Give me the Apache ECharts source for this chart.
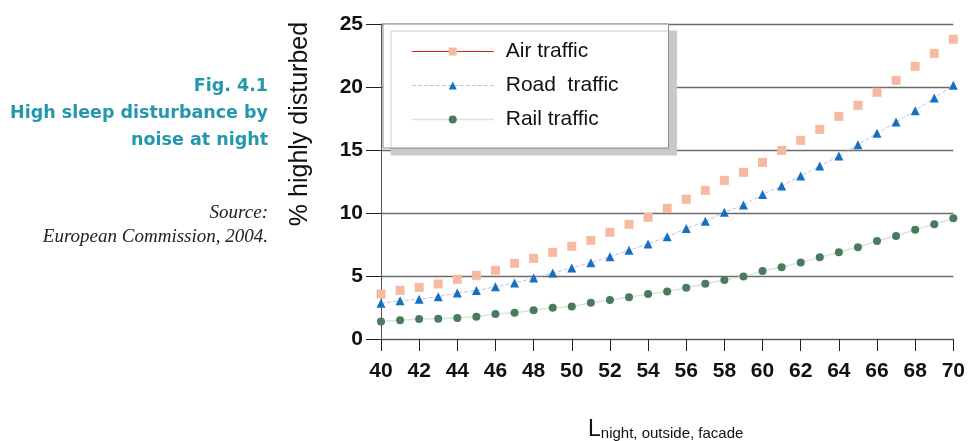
<!DOCTYPE html>
<html>
<head>
<meta charset="utf-8">
<script src="https://cdn.jsdelivr.net/npm/echarts@6/dist/echarts.min.js"></script>
<style>
html,body{margin:0;padding:0;background:#fff;}
#chart{width:968px;height:441px;}
</style>
</head>
<body>
<div id="chart"></div>
<script>
var noiseLevels = [40,41,42,43,44,45,46,47,48,49,50,51,52,53,54,55,56,57,58,59,60,61,62,63,64,65,66,67,68,69,70];
var airTraffic  = [3.57,3.86,4.10,4.37,4.74,5.05,5.45,6.01,6.40,6.88,7.36,7.83,8.47,9.10,9.66,10.37,11.09,11.80,12.59,13.23,14.02,14.97,15.77,16.64,17.67,18.55,19.58,20.53,21.64,22.67,23.79];
var roadTraffic = [2.83,3.04,3.15,3.36,3.65,3.84,4.15,4.44,4.84,5.24,5.63,6.06,6.53,7.04,7.54,8.12,8.76,9.34,10.05,10.63,11.46,12.14,12.94,13.73,14.52,15.42,16.32,17.22,18.12,19.13,20.13];
var railTraffic = [1.38,1.48,1.59,1.61,1.67,1.77,1.98,2.09,2.28,2.49,2.57,2.88,3.10,3.31,3.57,3.76,4.07,4.39,4.68,4.97,5.40,5.69,6.08,6.48,6.88,7.28,7.78,8.17,8.68,9.10,9.58];
var seriesNames = ['Air traffic', 'Road  traffic', 'Rail traffic'];
var titleLines = ['Fig. 4.1', 'High sleep disturbance by', 'noise at night'];
var sourceLines = ['Source:', 'European Commission, 2004.'];
var yAxisName = '% highly disturbed';
var xAxisNameMain = 'L';
var xAxisNameSub = 'night, outside, facade';

function pairs(vals){ return noiseLevels.map(function(x,i){ return [x, vals[i]]; }); }

var chart = echarts.init(document.getElementById('chart'), null, {renderer:'canvas'});
var tickFont = {fontFamily:'Liberation Sans, Arial, sans-serif', fontWeight:'bold', fontSize:21, color:'#111'};

var graphics = [];
var titleY = [88, 115, 142];
titleLines.forEach(function(t,i){
  graphics.push({type:'text', right: 968-268, top: titleY[i]-11, style:{text:t, fill:'#2397ad', font:'bold 17.5px "DejaVu Sans", sans-serif', textAlign:'right'}});
});
var srcY = [214, 238];
sourceLines.forEach(function(t,i){
  graphics.push({type:'text', right: 968-268, top: srcY[i]-11, style:{text:t, fill:'#222', font:'italic 19px "Liberation Serif", "Times New Roman", serif', textAlign:'right'}});
});
graphics.push({type:'text', x:300, y:124, rotation:Math.PI/2, style:{text:yAxisName, fill:'#111', font:'25px "Liberation Sans", Arial, sans-serif', textAlign:'center', textVerticalAlign:'middle'}});
graphics.push({type:'text', left:588, top:418, style:{
  text:'{a|'+xAxisNameMain+'}{b|'+xAxisNameSub+'}',
  rich:{a:{fontSize:23, fontFamily:'Liberation Sans, Arial, sans-serif', fill:'#111', verticalAlign:'bottom'},
        b:{fontSize:15, fontFamily:'Liberation Sans, Arial, sans-serif', fill:'#111', verticalAlign:'bottom'}}
}});

chart.setOption({
  animation:false,
  backgroundColor:'#fff',
  grid:{left:381, right:14, top:24, bottom:102, containLabel:false},
  legend:{
    left:383, top:24, orient:'vertical',
    padding:[17,50,18,28],
    itemGap:13, itemWidth:82, itemHeight:10,
    backgroundColor:'#fff', borderColor:'#888', borderWidth:1,
    shadowColor:'#c9c9c9', shadowBlur:0, shadowOffsetX:8, shadowOffsetY:7,
    textStyle:{fontFamily:'Liberation Sans, Arial, sans-serif', fontSize:21, color:'#111', padding:[0,0,0,7]},
    data:[
      {name:seriesNames[0], lineStyle:{color:'#d8281e', width:1.2, opacity:1, type:'solid'}},
      {name:seriesNames[1], lineStyle:{color:'#c4bfe0', width:1, opacity:1, type:'dashed'}},
      {name:seriesNames[2], lineStyle:{color:'#dbe3de', width:1.5, opacity:1}}
    ]
  },
  xAxis:{
    type:'value', min:40, max:70, interval:2,
    axisLine:{show:true, lineStyle:{color:'#555', width:1}},
    axisTick:{show:true, length:12, lineStyle:{color:'#222', width:1}},
    axisLabel:{margin:22, ...tickFont},
    splitLine:{show:false}
  },
  yAxis:{
    type:'value', min:0, max:25, interval:5,
    axisLine:{show:true, lineStyle:{color:'#555', width:1}},
    axisTick:{show:true, length:15, lineStyle:{color:'#222', width:1}},
    axisLabel:{margin:18, ...tickFont},
    splitLine:{show:true, lineStyle:{color:'#6b6b6b', width:1.3}}
  },
  graphic:graphics,
  series:[
    {name:seriesNames[0], type:'line', data:pairs(airTraffic), symbol:'rect', symbolSize:9,
     itemStyle:{color:'#f7b9a0'}, lineStyle:{color:'#d8281e', opacity:0, width:1}, z:3},
    {name:seriesNames[1], type:'line', data:pairs(roadTraffic), symbol:'triangle', symbolSize:9,
     itemStyle:{color:'#1570c2'}, lineStyle:{color:'#c4bfe0', width:1, type:'dashed'}, z:4},
    {name:seriesNames[2], type:'line', data:pairs(railTraffic), symbol:'circle', symbolSize:8,
     itemStyle:{color:'#4a7b5c'}, lineStyle:{color:'#dbe3de', width:1.5}, z:3}
  ]
});
</script>
</body>
</html>
